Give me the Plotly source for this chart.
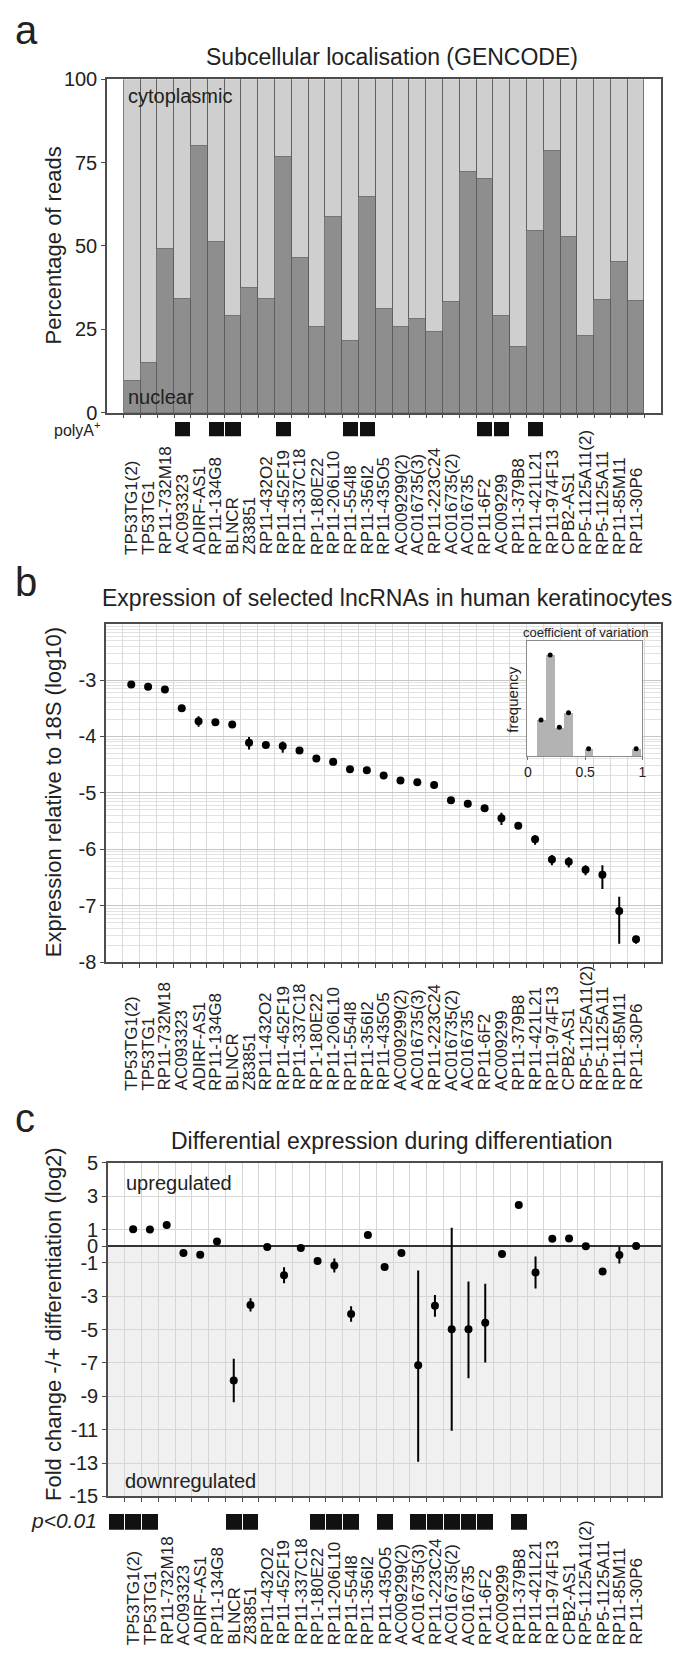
import math
import plotly.graph_objects as go

W, H = 685, 1654
FONT = "Liberation Sans, Arial, sans-serif"
INK = "#222222"

genes = ["TP53TG1(2)", "TP53TG1", "RP11-732M18", "AC093323", "ADIRF-AS1",
         "RP11-134G8", "BLNCR", "Z83851", "RP11-432O2", "RP11-452F19",
         "RP11-337C18", "RP1-180E22", "RP11-206L10", "RP11-554I8", "RP11-356I2",
         "RP11-435O5", "AC009299(2)", "AC016735(3)", "RP11-223C24", "AC016735(2)",
         "AC016735", "RP11-6F2", "AC009299", "RP11-379B8", "RP11-421L21",
         "RP11-974F13", "CPB2-AS1", "RP5-1125A11(2)", "RP5-1125A11", "RP11-85M11",
         "RP11-30P6"]

# panel a: % nuclear reads
nuclear_pct = [9.5, 14.8, 49.1, 34.1, 79.9, 51.1, 28.8, 37.2, 34.0, 76.7,
               46.3, 25.6, 58.6, 21.3, 64.7, 31.1, 25.6, 28.1, 24.2, 33.1,
               72.2, 70.0, 28.9, 19.5, 54.4, 78.3, 52.7, 23.0, 33.8, 45.2, 33.4]
polyA_slots = [3, 5, 6, 9, 13, 14, 21, 22, 24]

# panel b: log10 expression relative to 18S
expr_mean = [-3.08, -3.12, -3.17, -3.50, -3.73, -3.75, -3.79, -4.11, -4.15, -4.17,
             -4.25, -4.39, -4.45, -4.58, -4.60, -4.69, -4.78, -4.81, -4.86, -5.13,
             -5.19, -5.27, -5.45, -5.58, -5.82, -6.18, -6.22, -6.36, -6.45, -7.09, -7.59]
expr_err_up = [0.03, 0.03, 0.03, 0.03, 0.09, 0.03, 0.03, 0.10, 0.03, 0.08,
               0.06, 0.03, 0.03, 0.03, 0.03, 0.03, 0.05, 0.03, 0.04, 0.03,
               0.03, 0.03, 0.10, 0.03, 0.07, 0.08, 0.08, 0.08, 0.17, 0.25, 0.06]
expr_err_down = [0.03, 0.03, 0.03, 0.03, 0.10, 0.03, 0.03, 0.12, 0.03, 0.12,
                 0.06, 0.03, 0.03, 0.03, 0.03, 0.03, 0.05, 0.03, 0.04, 0.03,
                 0.03, 0.03, 0.12, 0.03, 0.10, 0.10, 0.10, 0.10, 0.25, 0.58, 0.08]

# inset: coefficient of variation histogram
cv_centers = [0.115, 0.195, 0.275, 0.355, 0.530, 0.945]
cv_widths = [0.08, 0.08, 0.08, 0.08, 0.075, 0.075]
cv_counts = [5, 14, 4, 6, 1, 1]

# panel c: log2 fold change -/+ differentiation
fc_mean = [1.02, 1.00, 1.27, -0.41, -0.51, 0.29, -8.05, -3.52, -0.04, -1.74,
           -0.10, -0.88, -1.15, -4.06, 0.68, -1.25, -0.41, -7.13, -3.57, -4.98,
           -4.98, -4.59, -0.47, 2.48, -1.58, 0.45, 0.47, 0.00, -1.52, -0.53, 0.02]
fc_err_up = [0, 0, 0, 0, 0, 0, 1.30, 0.40, 0, 0.48,
             0, 0, 0.42, 0.46, 0, 0, 0, 5.68, 0.65, 6.09,
             2.87, 2.34, 0, 0, 0.96, 0, 0, 0, 0, 0.50, 0]
fc_err_down = [0, 0, 0, 0, 0, 0, 1.30, 0.40, 0, 0.48,
               0, 0, 0.42, 0.46, 0, 0, 0, 5.80, 0.65, 6.09,
               2.93, 2.38, 0, 0, 0.96, 0, 0, 0, 0, 0.50, 0]
p_slots = [-1, 0, 1, 6, 7, 11, 12, 13, 15, 17, 18, 19, 20, 21, 23]

pos = list(range(len(genes)))
cyto_pct = [100 - v for v in nuclear_pct]
xr = [-1.5, len(genes) + 0.5]
bounds = [i - 0.5 for i in range(len(genes) + 1)]


def dx(x0, x1):
    return [x0 / W, x1 / W]


def dy(top, bottom):
    return [1 - bottom / H, 1 - top / H]


def py(y):
    return 1 - y / H


fig = go.Figure()

# ---- panel a
fig.add_trace(go.Bar(x=pos, y=nuclear_pct, marker=dict(color="#8e8e8e", line=dict(color="#5c5c5c", width=0.8)),
                     xaxis="x", yaxis="y"))
fig.add_trace(go.Bar(x=pos, y=cyto_pct, marker=dict(color="#cfcfcf", line=dict(color="#5c5c5c", width=0.8)),
                     xaxis="x", yaxis="y"))
fig.add_trace(go.Bar(x=polyA_slots, y=[1] * len(polyA_slots), width=0.9, marker=dict(color="#111111", line=dict(width=0)),
                     xaxis="x5", yaxis="y5"))

# ---- panel b
fig.add_trace(go.Scatter(x=pos, y=expr_mean, mode="markers",
                         marker=dict(color="black", size=8),
                         error_y=dict(type="data", array=expr_err_up, arrayminus=expr_err_down,
                                      color="black", thickness=2, width=0),
                         xaxis="x2", yaxis="y2"))
fig.add_trace(go.Bar(x=cv_centers, y=cv_counts, width=cv_widths, marker=dict(color="#b3b3b3", line=dict(width=0)),
                     xaxis="x4", yaxis="y4"))
fig.add_trace(go.Scatter(x=cv_centers, y=cv_counts, mode="markers", marker=dict(color="black", size=5),
                         xaxis="x4", yaxis="y4"))

# ---- panel c
fig.add_trace(go.Scatter(x=pos, y=fc_mean, mode="markers",
                         marker=dict(color="black", size=8),
                         error_y=dict(type="data", array=fc_err_up, arrayminus=fc_err_down,
                                      color="black", thickness=2, width=0),
                         xaxis="x3", yaxis="y3"))
fig.add_trace(go.Bar(x=p_slots, y=[1] * len(p_slots), width=0.94, marker=dict(color="#111111", line=dict(width=0)),
                     xaxis="x6", yaxis="y6"))

frame = dict(showline=True, linecolor="#4d4d4d", linewidth=1.5, mirror=True, zeroline=False,
             tickfont=dict(size=20, color=INK, family=FONT), tickcolor="#4d4d4d")
cat_x = dict(frame, range=xr, tickvals=bounds, ticktext=[""] * len(bounds), ticks="outside", ticklen=4)

# log-style minor grid of panel b
minor_vals = [d + math.log10(k) for d in range(-8, -2) for k in range(2, 10)]

c_ticks = [5, 3, 1, 0, -1, -3, -5, -7, -9, -11, -13, -15]

fig.update_layout(
    width=W, height=H, autosize=False,
    margin=dict(l=0, r=0, t=0, b=0),
    paper_bgcolor="white", plot_bgcolor="white",
    showlegend=False, barmode="stack", bargap=0,
    font=dict(family=FONT, color=INK),
    xaxis=dict(cat_x, domain=dx(97, 657), anchor="y", showgrid=False),
    yaxis=dict(frame, domain=dy(61, 399), anchor="x", range=[0, 100], tickvals=[0, 25, 50, 75, 100],
               ticks="outside", ticklen=4, showgrid=False),
    xaxis5=dict(domain=dx(97, 657), range=xr, visible=False, anchor="y5"),
    yaxis5=dict(domain=dy(408, 423), range=[0, 1], visible=False, anchor="x5"),
    xaxis2=dict(cat_x, domain=dx(96, 657), anchor="y2", showgrid=True, gridcolor="#dadada", gridwidth=1),
    yaxis2=dict(frame, domain=dy(612.7, 956), anchor="x2", range=[-8, -2],
                tickvals=[-8, -7, -6, -5, -4, -3], ticktext=["-8", "-7", "-6", "-5", "-4", "-3"],
                ticks="outside", ticklen=4, showgrid=True, gridcolor="#c6c6c6", gridwidth=1.2,
                minor=dict(tickvals=minor_vals, showgrid=True, gridcolor="#e2e2e2", gridwidth=1, ticks="")),
    xaxis4=dict(domain=dx(521, 638), anchor="y4", range=[-0.01, 1.0], tickvals=[0, 0.5, 1],
                ticktext=["0", "0.5", "1"], ticks="outside", ticklen=3, tickcolor="#777777",
                tickfont=dict(size=14, color=INK, family=FONT), showline=True, linecolor="#8a8a8a",
                linewidth=1, mirror=True, showgrid=False, zeroline=False),
    yaxis4=dict(domain=dy(630, 747), anchor="x4", range=[0, 16], showticklabels=False, ticks="",
                showline=True, linecolor="#8a8a8a", linewidth=1, mirror=True, showgrid=False, zeroline=False),
    xaxis3=dict(cat_x, domain=dx(98, 657), anchor="y3", showgrid=True, gridcolor="#d6d6d6", gridwidth=1),
    yaxis3=dict(frame, domain=dy(1159.3, 1497.3), anchor="x3", range=[-15, 5],
                tickvals=c_ticks, ticktext=[str(v) for v in c_ticks],
                ticks="outside", ticklen=4, showgrid=True, gridcolor="#d6d6d6", gridwidth=1,
                zeroline=True, zerolinecolor="#333333", zerolinewidth=1.5),
    xaxis6=dict(domain=dx(98, 657), range=xr, visible=False, anchor="y6"),
    yaxis6=dict(domain=dy(1515, 1531), range=[0, 1], visible=False, anchor="x6"),
)

fig.add_shape(type="rect", xref="x3", yref="y3", x0=xr[0], x1=xr[1], y0=-15, y1=0,
              fillcolor="#f0f0f0", line=dict(width=0), layer="below")

ann = []


def text(s, x, y, size, xanchor="center", yanchor="middle", angle=0, italic=False):
    ann.append(dict(text=s, x=x / W, y=py(y), xref="paper", yref="paper", showarrow=False,
                    xanchor=xanchor, yanchor=yanchor, textangle=angle,
                    font=dict(size=size, color=INK, family=FONT, style="italic" if italic else "normal")))


# panel letters
text("a", 2, 11, 40, xanchor="left")
text("b", 2, 571, 40, xanchor="left")
text("c", 2, 1114, 40, xanchor="left")

# titles
text("Subcellular localisation (GENCODE)", 385, 39, 23)
text("Expression of selected lncRNAs in human keratinocytes", 380, 587, 23)
text("Differential expression during differentiation", 385, 1137, 23)

# axis titles
text("Percentage of reads", 43, 230, 22, angle=-90)
text("Expression relative to 18S (log10)", 43, 784, 22, angle=-90)
text("Fold change -/+ differentiation (log2)", 43, 1323, 22, angle=-90)

# in-plot notes
text("cytoplasmic", 116, 78, 20, xanchor="left")
text("nuclear", 116, 383, 20, xanchor="left")
text("upregulated", 114, 1180, 20, xanchor="left")
text("downregulated", 113, 1482, 20, xanchor="left")
text("polyA<sup>+</sup>", 93, 416, 16, xanchor="right")
text("p<0.01", 89, 1522, 21, xanchor="right", italic=True)

# inset texts
text("coefficient of variation", 581, 622, 13)
text("frequency", 507, 690, 15, angle=-90)

# rotated gene labels, start-aligned at the bottom
for xref, base in (("x", 545), ("x2", 1088), ("x3", 1650)):
    for i, g in enumerate(genes):
        ann.append(dict(text=g, x=pos[i], xref=xref, y=py(base), yref="paper", showarrow=False,
                        xanchor="center", yanchor="bottom", textangle=-90,
                        font=dict(size=17, color=INK, family=FONT)))

fig.update_layout(annotations=ann)

fig.write_html("out.html")
